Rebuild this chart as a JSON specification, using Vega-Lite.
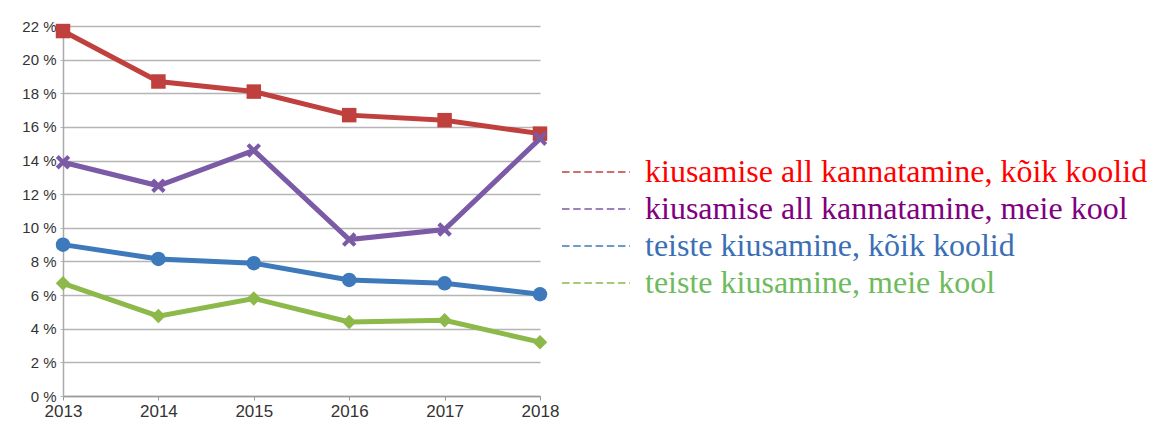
{
  "$schema": "https://vega.github.io/schema/vega-lite/v6.json",
  "width": 477,
  "height": 370,
  "autosize": {"type": "none"},
  "padding": {"left": 63, "top": 26, "right": 611, "bottom": 25},
  "background": "white",
  "config": {"view": {"stroke": null}},
  "data": {
    "values": [
      {"year": "2013", "series": "kiusamise all kannatamine, kõik koolid", "value": 21.7},
      {"year": "2014", "series": "kiusamise all kannatamine, kõik koolid", "value": 18.7},
      {"year": "2015", "series": "kiusamise all kannatamine, kõik koolid", "value": 18.1},
      {"year": "2016", "series": "kiusamise all kannatamine, kõik koolid", "value": 16.7},
      {"year": "2017", "series": "kiusamise all kannatamine, kõik koolid", "value": 16.4},
      {"year": "2018", "series": "kiusamise all kannatamine, kõik koolid", "value": 15.6},
      {"year": "2013", "series": "kiusamise all kannatamine, meie kool", "value": 13.9},
      {"year": "2014", "series": "kiusamise all kannatamine, meie kool", "value": 12.5},
      {"year": "2015", "series": "kiusamise all kannatamine, meie kool", "value": 14.6},
      {"year": "2016", "series": "kiusamise all kannatamine, meie kool", "value": 9.3},
      {"year": "2017", "series": "kiusamise all kannatamine, meie kool", "value": 9.9},
      {"year": "2018", "series": "kiusamise all kannatamine, meie kool", "value": 15.3},
      {"year": "2013", "series": "teiste kiusamine, kõik koolid", "value": 9.0},
      {"year": "2014", "series": "teiste kiusamine, kõik koolid", "value": 8.15},
      {"year": "2015", "series": "teiste kiusamine, kõik koolid", "value": 7.9},
      {"year": "2016", "series": "teiste kiusamine, kõik koolid", "value": 6.9},
      {"year": "2017", "series": "teiste kiusamine, kõik koolid", "value": 6.7},
      {"year": "2018", "series": "teiste kiusamine, kõik koolid", "value": 6.05},
      {"year": "2013", "series": "teiste kiusamine, meie kool", "value": 6.7},
      {"year": "2014", "series": "teiste kiusamine, meie kool", "value": 4.75},
      {"year": "2015", "series": "teiste kiusamine, meie kool", "value": 5.8},
      {"year": "2016", "series": "teiste kiusamine, meie kool", "value": 4.4},
      {"year": "2017", "series": "teiste kiusamine, meie kool", "value": 4.5},
      {"year": "2018", "series": "teiste kiusamine, meie kool", "value": 3.2}
    ]
  },
  "encoding": {
    "x": {
      "field": "year",
      "type": "ordinal",
      "scale": {"type": "point", "padding": 0},
      "axis": {
        "title": null,
        "labelAngle": 0,
        "labelFont": "Liberation Sans",
        "labelFontSize": 17,
        "labelColor": "#333333",
        "domainColor": "#999999",
        "domainWidth": 1.5,
        "tickColor": "#999999",
        "tickSize": 4,
        "labelPadding": 3,
        "grid": false
      }
    },
    "y": {
      "field": "value",
      "type": "quantitative",
      "scale": {"domain": [0, 22], "nice": false},
      "axis": {
        "title": null,
        "values": [0, 2, 4, 6, 8, 10, 12, 14, 16, 18, 20, 22],
        "labelExpr": "datum.value + ' %'",
        "labelFont": "Liberation Sans",
        "labelFontSize": 15,
        "labelColor": "#333333",
        "domain": true,
        "domainColor": "#aaaaaa",
        "domainWidth": 1.5,
        "tickColor": "#b5b5b5",
        "tickSize": 3,
        "labelPadding": 4,
        "grid": true,
        "gridColor": "#b5b5b5",
        "gridWidth": 1.5
      }
    }
  },
  "resolve": {"legend": {"color": "independent", "shape": "independent"}},
  "layer": [
    {
      "mark": {"type": "line", "strokeWidth": 5},
      "encoding": {
        "color": {
          "field": "series",
          "type": "nominal",
          "scale": {
            "domain": [
              "kiusamise all kannatamine, kõik koolid",
              "kiusamise all kannatamine, meie kool",
              "teiste kiusamine, kõik koolid",
              "teiste kiusamine, meie kool"
            ],
            "range": ["#c0403e", "#7b5aa6", "#3d79bb", "#8db84a"]
          },
          "legend": {
            "orient": "none",
            "legendX": 515,
            "legendY": 128,
            "title": null,
            "padding": 0,
            "symbolType": "M-2,0L2,0",
            "symbolSize": 1156,
            "symbolStrokeWidth": 1.5,
            "symbolFillColor": "transparent",
            "symbolDash": [7.5, 3.7],
            "labelFont": "Liberation Serif",
            "labelFontSize": 32,
            "labelOffset": 31,
            "rowPadding": 3,
            "labelLimit": 0,
            "encode": {
              "labels": {
                "update": {
                  "fill": [
                    {"test": "datum.value === 'kiusamise all kannatamine, kõik koolid'", "value": "#ff0000"},
                    {"test": "datum.value === 'kiusamise all kannatamine, meie kool'", "value": "#800080"},
                    {"test": "datum.value === 'teiste kiusamine, kõik koolid'", "value": "#3b6fb5"},
                    {"value": "#6dbb5c"}
                  ]
                }
              },
              "symbols": {
                "update": {
                  "stroke": [
                    {"test": "datum.value === 'kiusamise all kannatamine, kõik koolid'", "value": "#ff0000"},
                    {"test": "datum.value === 'kiusamise all kannatamine, meie kool'", "value": "#800080"},
                    {"test": "datum.value === 'teiste kiusamine, kõik koolid'", "value": "#3b6fb5"},
                    {"value": "#6dbb5c"}
                  ]
                }
              }
            }
          }
        }
      }
    },
    {
      "mark": {"type": "point", "filled": true, "opacity": 1},
      "encoding": {
        "color": {
          "field": "series",
          "type": "nominal",
          "legend": null
        },
        "shape": {
          "field": "series",
          "type": "nominal",
          "legend": null,
          "scale": {
            "domain": [
              "kiusamise all kannatamine, kõik koolid",
              "kiusamise all kannatamine, meie kool",
              "teiste kiusamine, kõik koolid",
              "teiste kiusamine, meie kool"
            ],
            "range": [
              "square",
              "M-1,-0.6L-0.6,-1L0,-0.4L0.6,-1L1,-0.6L0.4,0L1,0.6L0.6,1L0,0.4L-0.6,1L-1,0.6L-0.4,0Z",
              "circle",
              "diamond"
            ]
          }
        },
        "size": {"value": 210}
      }
    }
  ]
}
